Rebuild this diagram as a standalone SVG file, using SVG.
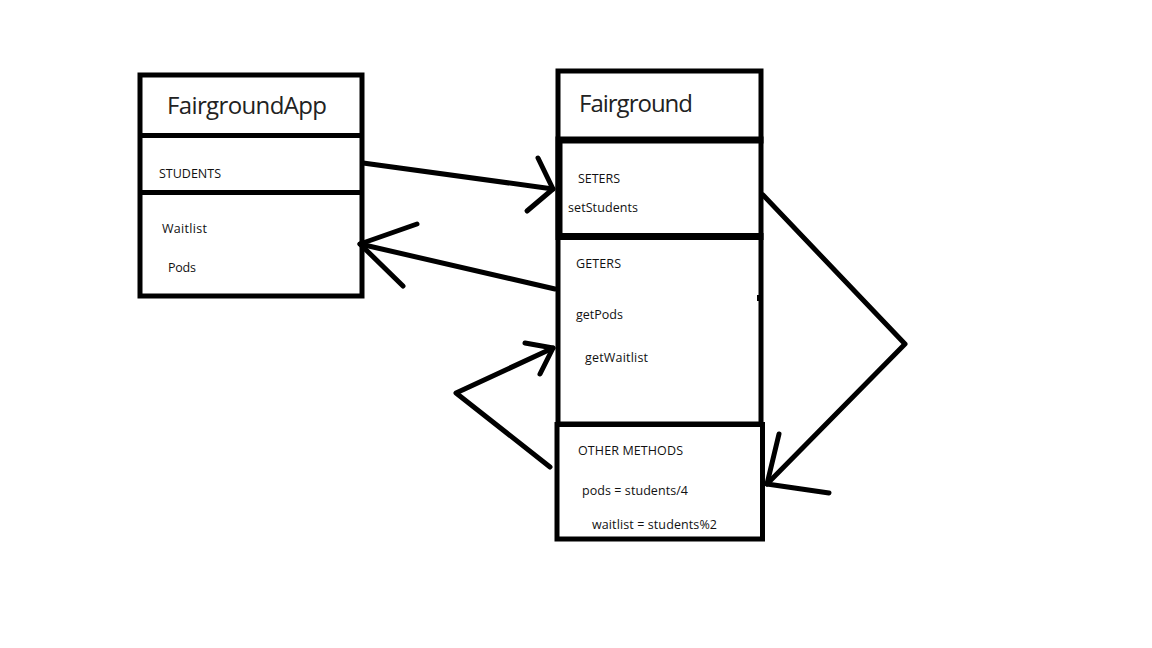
<svg xmlns="http://www.w3.org/2000/svg" width="1152" height="648" viewBox="0 0 1152 648">
  <style>
    .box { fill: none; stroke: #000; stroke-width: 5; }
    .thick { fill: none; stroke: #000; stroke-width: 7; }
    .wire { fill: none; stroke: #000; stroke-width: 5; stroke-linecap: round; stroke-linejoin: round; }
    .title { font-family: "Open Sans", "Noto Sans", "Liberation Sans", sans-serif; font-size: 24px; fill: #222; }
    .item { font-family: "Open Sans", "Noto Sans", "Liberation Sans", sans-serif; font-size: 12.5px; fill: #111; }
  </style>
  <rect width="1152" height="648" fill="#fff"/>

  <!-- FairgroundApp class -->
  <g id="fairground-app">
    <rect class="box" x="140" y="75" width="222" height="221"/>
    <line class="box" x1="140" y1="135.5" x2="362" y2="135.5"/>
    <line class="box" x1="140" y1="192.5" x2="362" y2="192.5"/>
    <text class="title" x="167" y="114" textLength="160">FairgroundApp</text>
    <text class="item" x="159" y="178" textLength="62">STUDENTS</text>
    <text class="item" x="162" y="233" textLength="45">Waitlist</text>
    <text class="item" x="168" y="272" textLength="28">Pods</text>
  </g>

  <!-- Fairground class -->
  <g id="fairground">
    <rect class="box" x="558" y="71" width="203" height="353"/>
    <text class="title" x="579" y="112" textLength="114">Fairground</text>
    <rect x="757" y="295" width="3" height="6" fill="#000"/>
  </g>

  <!-- setter section: heavier top, bottom and left edges -->
  <g id="setters">
    <path class="thick" d="M555.5 140 H763.5 M555.5 236.5 H763.5 M559 140 V236.5"/>
    <text class="item" x="578" y="183" textLength="42">SETERS</text>
    <text class="item" x="568" y="212" textLength="70">setStudents</text>
  </g>

  <g id="getters">
    <text class="item" x="576" y="268" textLength="45">GETERS</text>
    <text class="item" x="576" y="319" textLength="47">getPods</text>
    <text class="item" x="585" y="362" textLength="63">getWaitlist</text>
  </g>

  <g id="other-methods">
    <rect class="box" x="557" y="424.5" width="205.5" height="114.5"/>
    <text class="item" x="578" y="455" textLength="105">OTHER METHODS</text>
    <text class="item" x="582" y="495" textLength="106">pods = students/4</text>
    <text class="item" x="592" y="529" textLength="125">waitlist = students%2</text>
  </g>

  <!-- connectors, hand-drawn arrowheads -->
  <g id="connectors">
    <path class="wire" d="M363 163 L553 189"/>
    <path class="wire" d="M538 158 L553 189 L527 211"/>

    <path class="wire" d="M555 289 L360 244"/>
    <path class="wire" d="M417 224 L360 244 L403 286"/>

    <path class="wire" d="M550 467 L456 393 L553 348"/>
    <path class="wire" d="M525 343 L553 348 L540 374"/>

    <path class="wire" d="M763 195 L905 344 L767 484"/>
    <path class="wire" d="M779 434 L767 484 L829 493"/>
  </g>
</svg>
